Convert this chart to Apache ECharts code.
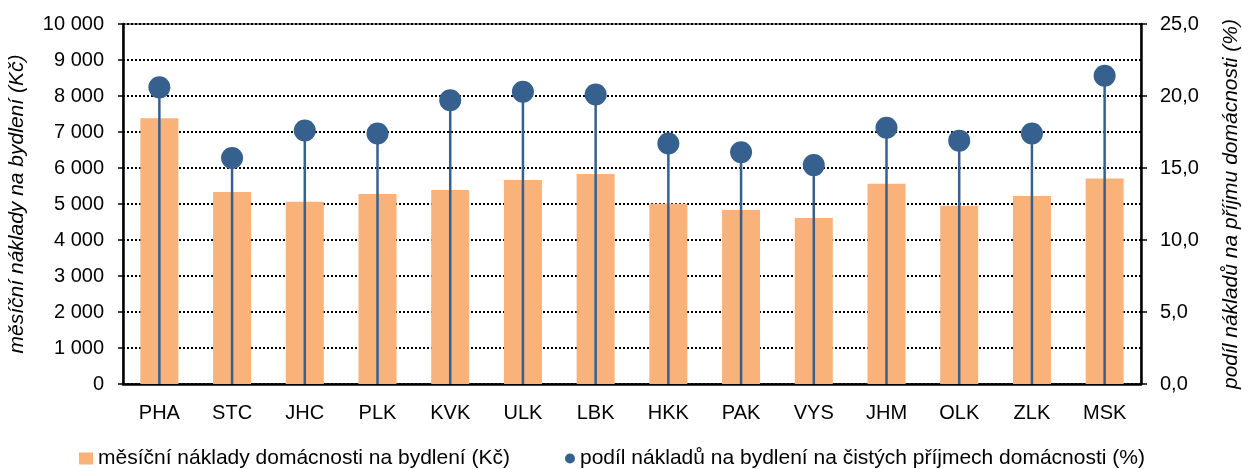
<!DOCTYPE html>
<html>
<head>
<meta charset="utf-8">
<script src="https://cdn.jsdelivr.net/npm/echarts@6/dist/echarts.min.js"></script>
<style>
  html, body { margin: 0; padding: 0; background: #fff; }
  #main { width: 1242px; height: 469px; }
</style>
</head>
<body>
<div id="main"></div>
<script>
var regions = ['PHA', 'STC', 'JHC', 'PLK', 'KVK', 'ULK', 'LBK', 'HKK', 'PAK', 'VYS', 'JHM', 'OLK', 'ZLK', 'MSK'];
// měsíční náklady domácnosti na bydlení (Kč)
var costs = [7380, 5330, 5060, 5280, 5390, 5670, 5830, 5010, 4830, 4610, 5560, 4950, 5220, 5710];
// podíl nákladů na bydlení na čistých příjmech domácnosti (%)
var shares = [20.6, 15.7, 17.6, 17.4, 19.7, 20.3, 20.1, 16.7, 16.1, 15.2, 17.8, 16.9, 17.4, 21.4];

var costName = 'měsíční náklady domácnosti na bydlení (Kč)';
var shareName = 'podíl nákladů na bydlení na čistých příjmech domácnosti (%)';

var orange = '#F8B27A';
var blue = '#36608E';
var font = 'Liberation Sans, Arial, sans-serif';

var chart = echarts.init(document.getElementById('main'));

var legendText = { fontSize: 21, color: '#000', fontFamily: font };

var option = {
    animation: false,
    textStyle: { fontFamily: font },
    grid: {
        left: 123,
        right: 101,
        top: 24,
        bottom: 85,
        outerBoundsMode: 'none',
        show: true,
        borderColor: '#000',
        borderWidth: 1,
    },
    legend: [{
        left: 74,
        bottom: -5,
        itemWidth: 14,
        itemHeight: 12,
        textStyle: legendText,
        data: [{ name: costName, icon: 'rect' }],
    }, {
        left: 560,
        bottom: -5,
        itemWidth: 10,
        itemHeight: 10,
        textStyle: legendText,
        data: [{ name: shareName, icon: 'circle' }],
    }],
    xAxis: [{
        type: 'category',
        data: regions,
        axisTick: { show: false },
        axisLine: { lineStyle: { color: '#000', width: 2.5 } },
        axisLabel: { color: '#000', fontSize: 20, margin: 19 },
    }, {
        type: 'category',
        data: regions,
        show: false,
    }],
    yAxis: [{
        type: 'value',
        min: 0,
        max: 10000,
        interval: 1000,
        name: 'měsíční náklady na bydlení (Kč)',
        nameLocation: 'middle',
        nameRotate: 90,
        nameGap: 95,
        nameTextStyle: { fontSize: 21, fontStyle: 'italic', color: '#000' },
        axisLine: { show: true, lineStyle: { color: '#000', width: 2.5 } },
        axisTick: { show: true, length: 5, lineStyle: { color: '#000', width: 1.5 } },
        axisLabel: {
            color: '#000',
            fontSize: 20,
            margin: 19,
            formatter: function (v) {
                return String(v).replace(/\B(?=(\d{3})+(?!\d))/g, ' ');
            },
        },
        splitLine: { lineStyle: { color: '#000', type: [2, 2], width: 2 } },
    }, {
        type: 'value',
        min: 0,
        max: 25,
        interval: 5,
        name: 'podíl nákladů na příjmu domácnosti (%)',
        nameLocation: 'middle',
        nameRotate: 90,
        nameGap: 80,
        nameTextStyle: { fontSize: 21, fontStyle: 'italic', color: '#000' },
        axisLine: { show: true, lineStyle: { color: '#000', width: 2.5 } },
        axisTick: { show: true, length: 6, lineStyle: { color: '#000', width: 1.5 } },
        axisLabel: {
            color: '#000',
            fontSize: 20,
            margin: 19,
            formatter: function (v) {
                return v.toFixed(1).replace('.', ',');
            },
        },
        splitLine: { show: false },
    }],
    series: [{
        name: costName,
        type: 'bar',
        data: costs,
        barWidth: 38,
        itemStyle: { color: orange },
    }, {
        name: shareName,
        type: 'bar',
        xAxisIndex: 1,
        yAxisIndex: 1,
        data: shares,
        barWidth: 2.5,
        itemStyle: { color: blue },
    }, {
        name: shareName,
        type: 'scatter',
        xAxisIndex: 1,
        yAxisIndex: 1,
        data: shares,
        symbolSize: 22,
        itemStyle: { color: blue, opacity: 1 },
        z: 5,
    }],
};
option && chart.setOption(option);
</script>
</body>
</html>
